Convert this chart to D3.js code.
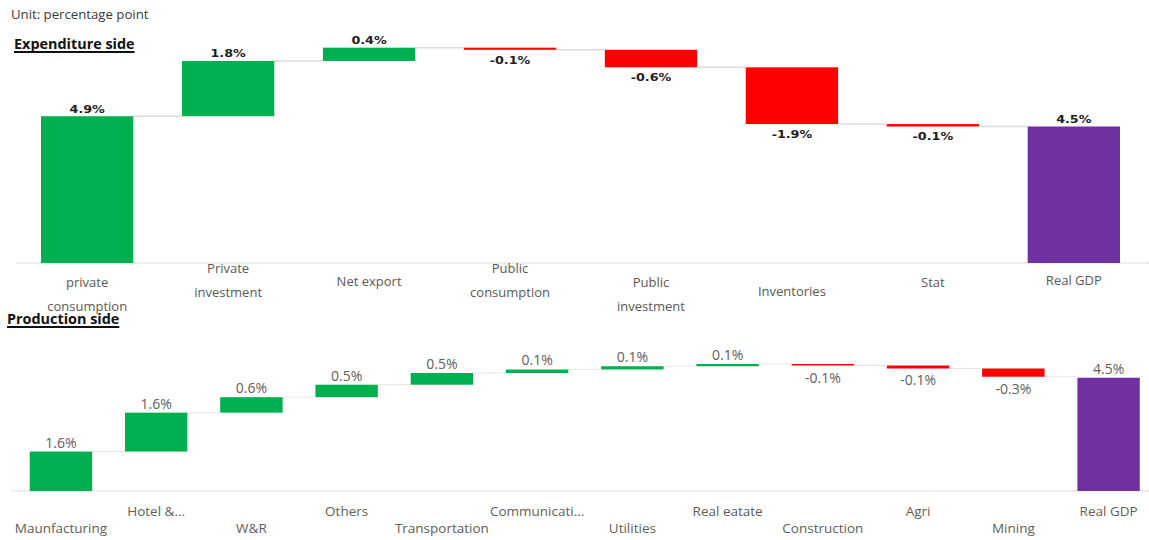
<!DOCTYPE html>
<html>
<head>
<meta charset="utf-8">
<script src="https://cdn.jsdelivr.net/npm/d3@7"></script>
<style>
    html, body { margin: 0; padding: 0; background: #fff; }
    svg { display: block; font-family: "Open Sans", sans-serif; }
</style>
</head>
<body>
<svg id="chart" width="1149" height="540"></svg>
<script>
    "use strict";

    // expenditure side (percentage point contributions)
    const expCategories = [["private", "consumption"], ["Private", "investment"], ["Net export"],
        ["Public", "consumption"], ["Public", "investment"], ["Inventories"], ["Stat"], ["Real GDP"]];
    const expValues = [4.86, 1.83, 0.44, -0.07, -0.58, -1.88, -0.08];
    const expTotal = 4.52;

    // production side
    const prodCategories = ["Maunfacturing", "Hotel &...", "W&R", "Others", "Transportation",
        "Communicati...", "Utilities", "Real eatate", "Construction", "Agri", "Mining", "Real GDP"];
    const prodValues = [1.58, 1.56, 0.62, 0.50, 0.47, 0.14, 0.13, 0.09, -0.06, -0.12, -0.33];
    const prodTotal = 4.54;

    // first-line offset of the wrapped category names under the top axis
    const expLabelDy = [24, 10, 23, 10, 24, 33, 24, 22];

    const COLORS = { up: "#00B050", down: "#FF0000", total: "#7030A0" };

    const svg = d3.select("#chart");

    let buildSteps = (values, total) => {
        let run = 0;
        const steps = values.map(v => {
            const s = { start: run, end: run + v, value: v, kind: v >= 0 ? "up" : "down" };
            run += v;
            return s;
        });
        steps.push({ start: 0, end: total, value: total, kind: "total" });
        return steps;
    };

    let fmt = v => v.toFixed(1) + "%";

    // header texts
    svg.append("text")
        .attr("x", 11).attr("y", 19)
        .attr("font-size", 13.2).attr("fill", "#3b3b3b")
        .text("Unit: percentage point");

    let sectionTitle = (label, x, y) => {
        const t = svg.append("text")
            .attr("x", x).attr("y", y)
            .attr("font-size", 14.4).attr("font-weight", 700).attr("fill", "#111")
            .text(label);
        const w = t.node().getComputedTextLength();
        svg.append("line")
            .attr("x1", x).attr("x2", x + w)
            .attr("y1", y + 3).attr("y2", y + 3)
            .attr("stroke", "#111").attr("stroke-width", 2);
    };

    sectionTitle("Expenditure side", 14, 49);
    sectionTitle("Production side", 7, 324);

    /**
     * Draws one waterfall panel
     */
    let drawWaterfall = (steps, opts) => {
        const g = svg.append("g");
        const x = d3.scaleBand()
            .domain(d3.range(steps.length))
            .range(opts.xRange)
            .paddingInner(0.345)
            .paddingOuter(0.1725);
        const y = d3.scaleLinear().domain(opts.yDomain).range(opts.yRange);
        const bw = x.bandwidth();

        // baseline
        g.append("line")
            .attr("x1", opts.baseX[0]).attr("x2", opts.baseX[1])
            .attr("y1", y(0)).attr("y2", y(0))
            .attr("stroke", "#c4c4c4").attr("stroke-width", 1)
            .attr("stroke-dasharray", "1,1");

        // connectors
        g.selectAll("line.conn")
            .data(steps.slice(0, -1))
            .enter().append("line")
            .attr("class", "conn")
            .attr("x1", (d, i) => x(i) + bw)
            .attr("x2", (d, i) => x(i + 1))
            .attr("y1", d => y(d.end))
            .attr("y2", d => y(d.end))
            .attr("stroke", opts.connColor)
            .attr("stroke-width", opts.connWidth)
            .attr("stroke-dasharray", opts.connDash);

        g.selectAll("rect")
            .data(steps)
            .enter().append("rect")
            .attr("x", (d, i) => x(i))
            .attr("width", bw)
            .attr("y", d => y(Math.max(d.start, d.end)))
            .attr("height", d => Math.abs(y(d.start) - y(d.end)))
            .attr("fill", d => COLORS[d.kind]);

        // value labels
        g.selectAll("text.val")
            .data(steps)
            .enter().append("text")
            .attr("class", "val")
            .attr("text-anchor", "middle")
            .attr("transform", (d, i) => {
                const cx = x(i) + bw / 2;
                const ty = d.value >= 0
                    ? y(Math.max(d.start, d.end)) - opts.labelAbove
                    : y(Math.min(d.start, d.end)) + opts.labelBelow;
                return `translate(${cx},${ty}) scale(${opts.labelScale},1)`;
            })
            .attr("font-family", opts.labelFont)
            .attr("font-size", opts.labelSize)
            .attr("font-weight", opts.labelWeight)
            .attr("fill", opts.labelColor)
            .text(d => fmt(d.value));

        return { g, x, y, bw };
    };

    // top panel
    const expPanel = drawWaterfall(buildSteps(expValues, expTotal), {
        xRange: [16.7, 1144.3],
        yDomain: [0, 8],
        yRange: [263, 263 - 8 * 30.2],
        baseX: [16, 1149],
        connColor: "#dcdcdc", connWidth: 1.5, connDash: null,
        labelAbove: 3.5, labelBelow: 14,
        labelFont: "DejaVu Sans", labelSize: 10.8, labelWeight: 700,
        labelColor: "#1f1f1f", labelScale: 1.18
    });

    expCategories.forEach((lines, i) => {
        const t = expPanel.g.append("text")
            .attr("text-anchor", "middle")
            .attr("font-size", 13)
            .attr("fill", "#595959")
            .attr("y", expPanel.y(0) + expLabelDy[i]);
        lines.forEach((ln, j) => {
            t.append("tspan")
                .attr("x", expPanel.x(i) + expPanel.bw / 2)
                .attr("dy", j === 0 ? 0 : 23.5)
                .text(ln);
        });
    });

    // bottom panel
    const prodPanel = drawWaterfall(buildSteps(prodValues, prodTotal), {
        xRange: [13.3, 1156.2],
        yDomain: [0, 5.5],
        yRange: [491, 491 - 5.5 * 24.95],
        baseX: [12, 1149],
        connColor: "#cfcfcf", connWidth: 1, connDash: "1,1",
        labelAbove: 4, labelBelow: 17,
        labelFont: "Open Sans", labelSize: 14, labelWeight: 400,
        labelColor: "#605E5C", labelScale: 1
    });

    prodPanel.g.selectAll("text.cat")
        .data(prodCategories)
        .enter().append("text")
        .attr("class", "cat")
        .attr("text-anchor", "middle")
        .attr("x", (d, i) => prodPanel.x(i) + prodPanel.bw / 2)
        .attr("y", (d, i) => prodPanel.y(0) + (i % 2 === 0 ? 42 : 24.5))
        .attr("font-size", 13.5)
        .attr("fill", "#605E5C")
        .text(d => d);
</script>
</body>
</html>
